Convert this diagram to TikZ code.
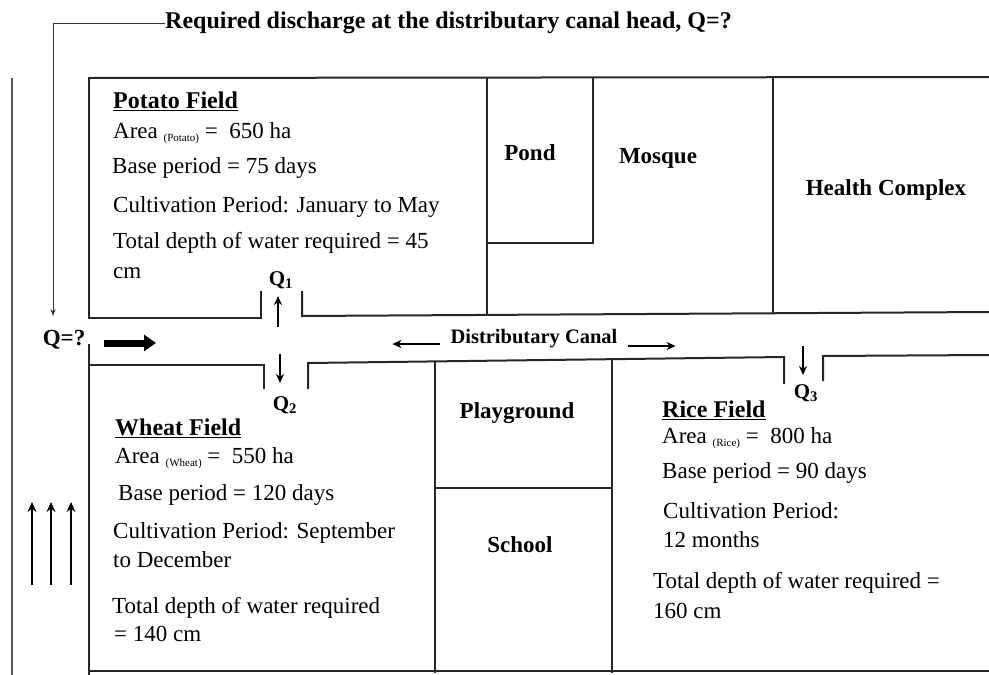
\documentclass[tikz,border=0pt]{standalone}
\usepackage{fontspec}
\setmainfont{Liberation Serif}
\usetikzlibrary{arrows.meta}
\newcommand{\areasub}[1]{\raisebox{-3pt}{\fontsize{11}{11}\selectfont #1}}
\begin{document}
\begin{tikzpicture}[x=1pt,y=-1pt,
  wall/.style={line width=2pt, draw=black!85, line cap=rect},
  t/.style={anchor=west, inner sep=0pt, font=\fontsize{23}{27}\selectfont, text height=15pt, text depth=4pt},
  tb/.style={t, font=\fontsize{24}{28}\selectfont\bfseries},
  lbl/.style={anchor=center, inner sep=0pt, font=\fontsize{23}{27}\selectfont\bfseries, text height=15pt, text depth=4pt},
  qlbl/.style={lbl, font=\fontsize{21}{25}\selectfont\bfseries},
  flow/.style={line width=2.2pt, -{Stealth[length=9pt,width=8pt]}},
  leader/.style={line width=0.9pt, draw=black!80}]
\useasboundingbox (0,0) rectangle (989,675);

% ---------- outer lines ----------
\draw[line width=2.2pt, draw=black!65] (12,78) -- (12,675);
% top row boundary
\draw[wall] (89,78) -- (989,77);
% potato field box and Q1 outlet
\draw[wall] (89,78) -- (89,318) -- (261,318) -- (261,292);
\draw[wall] (302,292) -- (302,316) -- (989,312);
% pond, mosque / health complex dividers
\draw[wall] (487,78) -- (487,314);
\draw[wall] (593,78) -- (593,243) -- (487,243);
\draw[wall] (773,77) -- (773,312);
% lower bank with Q2 and Q3 outlets
\draw[wall] (89,345) -- (89,675);
\draw[wall] (89,365) -- (264,365) -- (264,388);
\draw[wall] (308,388) -- (308,363) -- (784,357) -- (784,383);
\draw[wall] (823,380) -- (823,356) -- (989,355);
% playground / school
\draw[wall] (435,362) -- (435,672);
\draw[wall] (612,359) -- (612,672);
\draw[wall] (435,488) -- (612,488);
% bottom line
\draw[wall] (89,671) -- (989,671);

% ---------- required discharge leader ----------
\node[tb] (req) at (165,23) {Required discharge at the distributary canal head, Q=?};
\coordinate (qtip) at (53,316);
\draw[leader, -{Stealth[length=7pt,width=5pt]}] (req.west) -| (qtip);
\node[lbl] (qq) at (64,340) {Q=?};

% main flow arrow
\coordinate (fa) at (104,343);
\coordinate (fb) at (156,343);
\draw[line width=7pt, -{Triangle[length=12pt,width=16pt]}] (fa) -- (fb);

% three upward arrows
\foreach \x/\n in {32/a,51/b,71/c}{
  \coordinate (u\n1) at (\x,585);
  \coordinate (u\n2) at (\x,502);
  \draw[line width=2.6pt, -{Stealth[length=10pt,width=9pt]}] (u\n1) -- (u\n2);
}

% ---------- outlets ----------
\node[qlbl] (q1) at (281,280) {Q\textsubscript{1}};
\node[qlbl] (q2) at (285,405) {Q\textsubscript{2}};
\node[qlbl] (q3) at (806,393) {Q\textsubscript{3}};
\coordinate (o1a) at (278,327); \coordinate (o1b) at (278,296);
\coordinate (o2a) at (280,354); \coordinate (o2b) at (280,383);
\coordinate (o3a) at (803,346); \coordinate (o3b) at (803,375);
\draw[flow] (o1a) -- (o1b);
\draw[flow] (o2a) -- (o2b);
\draw[flow] (o3a) -- (o3b);

% ---------- canal label ----------
\node[lbl, font=\fontsize{20.5}{24}\selectfont\bfseries] (dc) at (534,338) {Distributary Canal};
\draw[flow] ([shift={(-10pt,-6pt)}]dc.west) -- ++(-48,0);
\draw[flow] ([shift={(10pt,-8pt)}]dc.east) -- ++(48,0);

% ---------- labels of areas ----------
\node[lbl] (pond) at (530,155) {Pond};
\node[lbl] (mosque) at (658,158) {Mosque};
\node[lbl] (health) at (886,190) {Health Complex};
\node[lbl] (play) at (517,413) {Playground};
\node[lbl] (school) at (520,547) {School};

% ---------- potato field ----------
\node[tb] (pf) at (113,103) {\underline{Potato Field}};
\node[t] (pa) at (113,133) {Area \areasub{(Potato)} = \ 650 ha};
\node[t] (pb) at (112,168) {Base period = 75 days};
\node[t] (pc) at (113,207) {Cultivation Period: January to May};
\node[t] (pd) at (113,243) {Total depth of water required = 45};
\node[t] (pe) at (113,273) {cm};

% ---------- wheat field ----------
\node[tb] (wf) at (115,430) {\underline{Wheat Field}};
\node[t] (wa) at (115,458) {Area \areasub{(Wheat)} = \ 550 ha};
\node[t] (wb) at (118,495) {Base period = 120 days};
\node[t] (wc) at (113,533) {Cultivation Period: September};
\node[t] (wd) at (113,562) {to December};
\node[t] (we) at (112,608) {Total depth of water required};
\node[t] (wg) at (114,636) {= 140 cm};

% ---------- rice field ----------
\node[tb] (rf) at (662,412) {\underline{Rice Field}};
\node[t] (ra) at (662,438) {Area \areasub{(Rice)} = \ 800 ha};
\node[t] (rb) at (662,473) {Base period = 90 days};
\node[t] (rc) at (663,513) {Cultivation Period:};
\node[t] (rd) at (663,542) {12 months};
\node[t] (re) at (653,583) {Total depth of water required =};
\node[t] (rg) at (653,613) {160 cm};
\end{tikzpicture}
\end{document}
